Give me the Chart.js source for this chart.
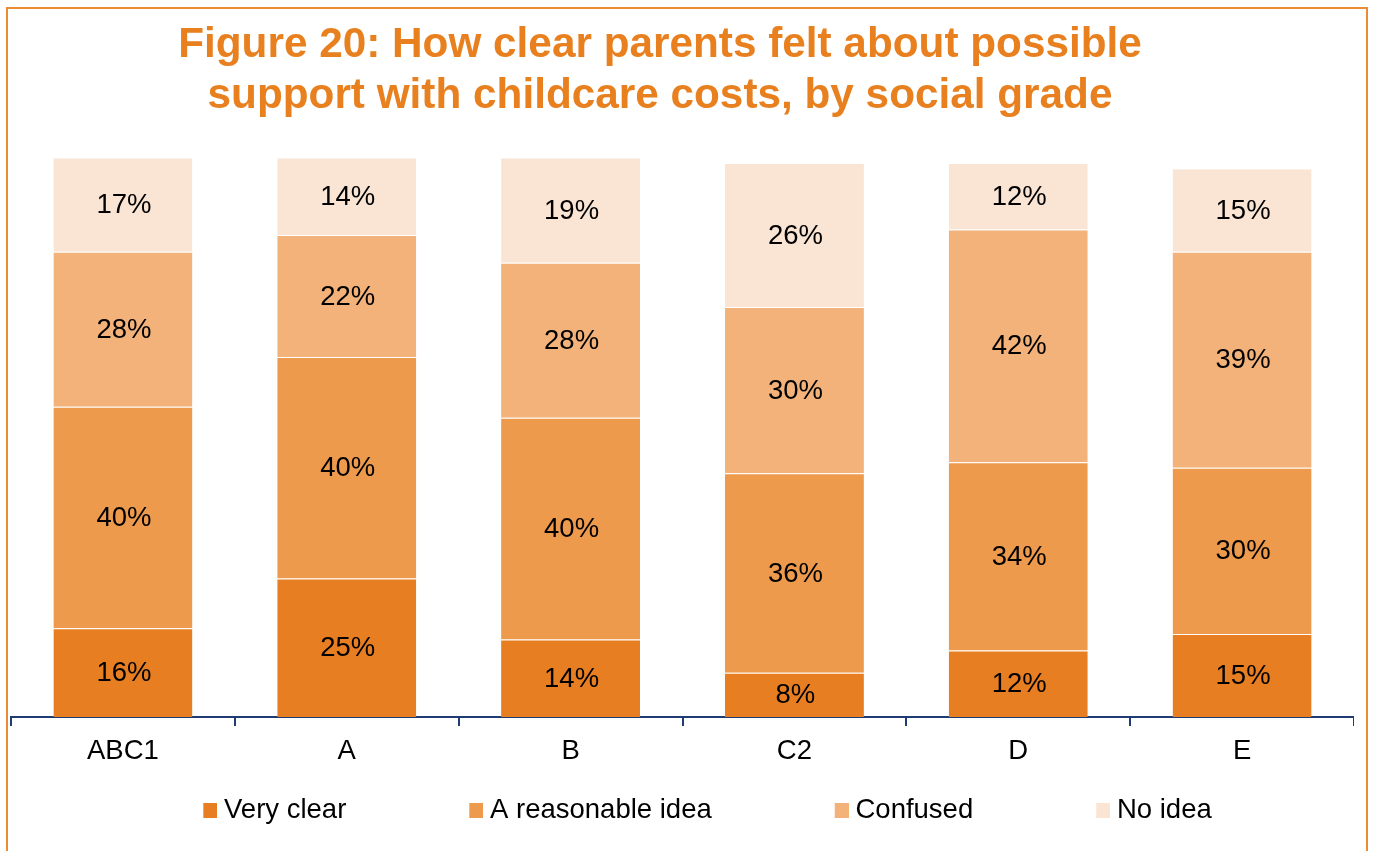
<!DOCTYPE html>
<html>
<head>
<meta charset="utf-8">
<script src="https://cdn.jsdelivr.net/npm/chart.js@4"></script>
<style>
  html, body { margin: 0; padding: 0; background: #ffffff; width: 1375px; height: 851px; overflow: hidden; position: relative; }
  #frame { position: absolute; left: 6px; top: 7px; width: 1362px; height: 900px; border: 2px solid #EC8B36; box-sizing: border-box; }
  #chart { position: absolute; left: -34px; top: 0; }
</style>
</head>
<body>
<div id="frame"></div>
<canvas id="chart" width="1388" height="851"></canvas>
<script>
// ---- data ----
const categories = ['ABC1', 'A', 'B', 'C2', 'D', 'E'];
const seriesNames = ['Very clear', 'A reasonable idea', 'Confused', 'No idea'];
const veryClear = [16, 25, 14, 8, 12, 15];
const reasonableIdea = [40, 40, 40, 36, 34, 30];
const confused = [28, 22, 28, 30, 42, 39];
const noIdea = [17, 14, 19, 26, 12, 15];
const Y_MAX = 101;
const titleLines = ['Figure 20: How clear parents felt about possible', 'support with childcare costs, by social grade'];

// ---- styles ----
const COLORS = ['#E87E22', '#EE9A4D', '#F2B27A', '#FAE4D4'];
const ORANGE = '#E8801F';
const NAVY = '#1F3B73';
const FONT = '"Liberation Sans", Arial, sans-serif';
const TXT = 27.5;

Chart.defaults.font.family = FONT;
Chart.defaults.color = '#000000';

// legend swatches: coloured square at the right end of a transparent strip
const SW_STRIP = 116, SW = 14;
function swatch(color) {
  const c = document.createElement('canvas');
  c.width = SW_STRIP; c.height = SW + 1;
  const g = c.getContext('2d');
  g.fillStyle = color;
  g.fillRect(SW_STRIP - SW, 0, SW, SW + 1);
  return c;
}
const swatches = COLORS.map(swatch);

const values = [veryClear, reasonableIdea, confused, noIdea];

const dataLabels = {
  id: 'dataLabels',
  afterDatasetsDraw(chart) {
    const ctx = chart.ctx;
    ctx.save();
    ctx.font = TXT + 'px ' + FONT;
    ctx.fillStyle = '#000000';
    ctx.textAlign = 'center';
    ctx.textBaseline = 'middle';
    chart.data.datasets.forEach((ds, i) => {
      const meta = chart.getDatasetMeta(i);
      meta.data.forEach((bar, j) => {
        const p = bar.getProps(['x', 'y', 'base'], true);
        ctx.fillText(ds.data[j] + '%', p.x + 1, (p.y + p.base) / 2 + 1);
      });
    });
    ctx.restore();
  }
};

new Chart(document.getElementById('chart'), {
  type: 'bar',
  data: {
    labels: categories,
    datasets: seriesNames.map((name, i) => ({
      label: name,
      data: values[i],
      backgroundColor: COLORS[i],
      borderColor: 'rgba(255,255,255,0.3)',
      borderWidth: {top: 1, left: 0, right: 0, bottom: 0},
      borderSkipped: false,
      barPercentage: 0.621,
      categoryPercentage: 1.0
    }))
  },
  options: {
    responsive: false,
    animation: false,
    layout: { padding: { left: 0, right: 0, top: 0, bottom: 17.25 } },
    plugins: {
      tooltip: { enabled: false },
      title: {
        display: true,
        text: titleLines,
        color: ORANGE,
        font: { size: 42.3, weight: 'bold', lineHeight: 1.2 },
        padding: { top: 20, bottom: 36 }
      },
      legend: {
        position: 'bottom',
        labels: {
          usePointStyle: true,
          pointStyleWidth: 102,
          boxHeight: SW,
          padding: 28,
          color: '#000000',
          font: { size: TXT },
          generateLabels(chart) {
            const items = Chart.defaults.plugins.legend.labels.generateLabels(chart);
            items.forEach((it) => { it.pointStyle = swatches[it.datasetIndex]; });
            return items;
          }
        }
      }
    },
    scales: {
      x: {
        stacked: true,
        grid: { display: true, offset: true, drawOnChartArea: false, drawTicks: true, tickLength: 9, color: NAVY, lineWidth: 2 },
        border: { display: true, color: NAVY, width: 2 },
        ticks: { color: '#000000', font: { size: TXT }, padding: 8.5 },
        afterFit(s) { s.height = 51.25; }
      },
      y: {
        stacked: true,
        min: 0,
        max: Y_MAX,
        ticks: { display: false },
        grid: { display: false },
        border: { display: false },
        afterFit(s) { s.width = 45; }
      }
    }
  },
  plugins: [dataLabels]
});
</script>
</body>
</html>
